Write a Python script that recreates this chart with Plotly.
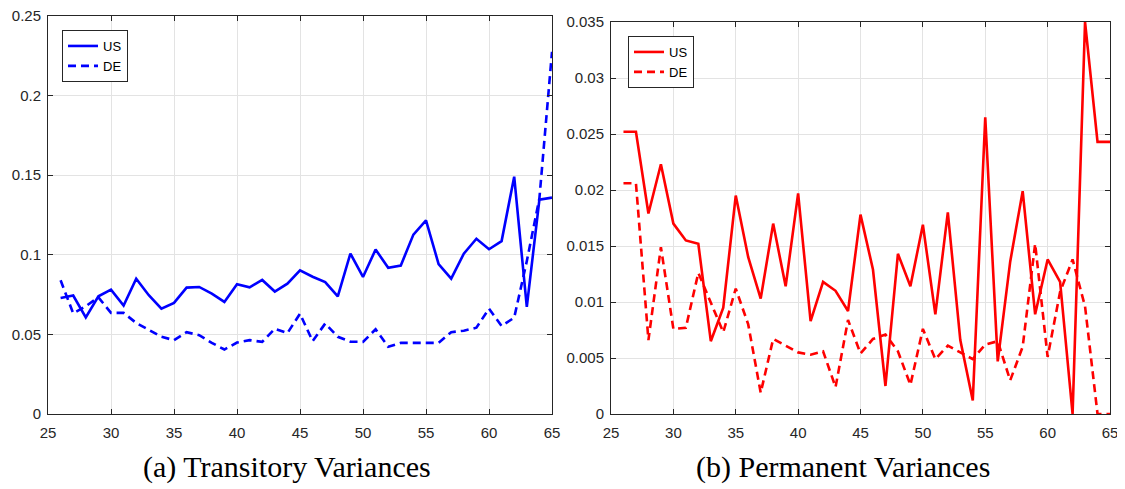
import plotly.graph_objects as go

ages = [26, 27, 28, 29, 30, 31, 32, 33, 34, 35, 36, 37, 38, 39, 40, 41, 42, 43, 44, 45,
        46, 47, 48, 49, 50, 51, 52, 53, 54, 55, 56, 57, 58, 59, 60, 61, 62, 63, 64, 65]

trans_us = [0.0729, 0.0744, 0.0606, 0.0739, 0.0781, 0.0681, 0.0850, 0.0746, 0.0662, 0.0698,
            0.0794, 0.0798, 0.0756, 0.0704, 0.0815, 0.0796, 0.0842, 0.0769, 0.0819, 0.0902,
            0.0862, 0.0829, 0.0739, 0.1008, 0.0861, 0.1033, 0.0919, 0.0933, 0.1127, 0.1216,
            0.0942, 0.0850, 0.1007, 0.1101, 0.1035, 0.1086, 0.1491, 0.0673, 0.1346, 0.1359]
trans_de = [0.0840, 0.0632, 0.0677, 0.0733, 0.0635, 0.0635, 0.0572, 0.0530, 0.0485, 0.0464,
            0.0514, 0.0495, 0.0447, 0.0405, 0.0449, 0.0464, 0.0453, 0.0535, 0.0508, 0.0630,
            0.0458, 0.0568, 0.0485, 0.0454, 0.0453, 0.0532, 0.0422, 0.0447, 0.0447, 0.0446,
            0.0447, 0.0514, 0.0523, 0.0542, 0.0662, 0.0553, 0.0605, 0.0960, 0.1355, 0.2275]
perm_us = [0.0252, 0.0252, 0.0179, 0.0223, 0.0170, 0.0155, 0.0152, 0.0065, 0.0095, 0.0195,
           0.0140, 0.0103, 0.0170, 0.0114, 0.0197, 0.0083, 0.0118, 0.0110, 0.0092, 0.0178,
           0.0129, 0.0025, 0.0143, 0.0114, 0.0169, 0.0089, 0.0180, 0.0066, 0.0012, 0.0265,
           0.0047, 0.0136, 0.0199, 0.0089, 0.0138, 0.0118, 0.0000, 0.0350, 0.0243, 0.0243]
perm_de = [0.0206, 0.0206, 0.0066, 0.0149, 0.0076, 0.0077, 0.0126, 0.0099, 0.0073, 0.0112,
           0.0080, 0.0019, 0.0067, 0.0061, 0.0055, 0.0053, 0.0056, 0.0024, 0.0084, 0.0054,
           0.0067, 0.0071, 0.0056, 0.0026, 0.0076, 0.0049, 0.0061, 0.0055, 0.0049, 0.0062,
           0.0065, 0.0030, 0.0060, 0.0152, 0.0051, 0.0109, 0.0138, 0.0096, 0.0000, 0.0000]

x_ticks = [25, 30, 35, 40, 45, 50, 55, 60, 65]
left_ticks = [0, 0.05, 0.1, 0.15, 0.2, 0.25]
left_labels = ["0", "0.05", "0.1", "0.15", "0.2", "0.25"]
right_ticks = [0, 0.005, 0.01, 0.015, 0.02, 0.025, 0.03, 0.035]
right_labels = ["0", "0.005", "0.01", "0.015", "0.02", "0.025", "0.03", "0.035"]
series_names = ["US", "DE"]
captions = ["(a) Transitory Variances", "(b) Permanent Variances"]

BLUE = "#0000FF"
RED = "#FF0000"
DASH = "8px,5px"
LW = 2.6

fig = go.Figure()
fig.add_trace(go.Scatter(x=ages, y=trans_us, mode="lines", name=series_names[0],
                         line=dict(color=BLUE, width=LW), xaxis="x", yaxis="y", legend="legend"))
fig.add_trace(go.Scatter(x=ages, y=trans_de, mode="lines", name=series_names[1],
                         line=dict(color=BLUE, width=LW, dash=DASH), xaxis="x", yaxis="y", legend="legend"))
fig.add_trace(go.Scatter(x=ages, y=perm_us, mode="lines", name=series_names[0],
                         line=dict(color=RED, width=LW), xaxis="x2", yaxis="y2", legend="legend2"))
fig.add_trace(go.Scatter(x=ages, y=perm_de, mode="lines", name=series_names[1],
                         line=dict(color=RED, width=LW, dash=DASH), xaxis="x2", yaxis="y2", legend="legend2"))

# page body has an 8px margin; figure is placed at (8, 8) in the 1125x489 window
OFF = 8
W, H = 1125 - OFF, 489 - OFF


def px_x(v):
    return (v - OFF) / W


def px_y(v):
    return 1 - (v - OFF) / H


tickfont = dict(family="Liberation Sans, Arial, sans-serif", size=15, color="#262626")
axis_common = dict(showline=True, linecolor="#262626", linewidth=1, mirror="ticks",
                   ticks="inside", ticklen=5, tickcolor="#262626", showgrid=True,
                   gridcolor="#e3e3e3", gridwidth=1, zeroline=False, automargin=False,
                   ticklabeloverflow="allow", tickfont=tickfont)
legend_font = dict(family="Liberation Sans, Arial, sans-serif", size=13, color="black")

fig.update_layout(
    width=W, height=H,
    paper_bgcolor="white", plot_bgcolor="white",
    margin=dict(l=0, r=0, t=0, b=0, autoexpand=False),
    showlegend=True,
    xaxis=dict(domain=[px_x(48), px_x(552)], range=[25, 65], tickvals=x_ticks, anchor="y",
               ticklabelstandoff=5, **axis_common),
    yaxis=dict(domain=[px_y(414), px_y(16)], range=[0, 0.25], tickvals=left_ticks,
               ticktext=left_labels, anchor="x", ticklabelstandoff=3, **axis_common),
    xaxis2=dict(domain=[px_x(611), px_x(1110)], range=[25, 65], tickvals=x_ticks, anchor="y2",
                ticklabelstandoff=5, **axis_common),
    yaxis2=dict(domain=[px_y(414), px_y(22)], range=[0, 0.035], tickvals=right_ticks,
                ticktext=right_labels, anchor="x2", ticklabelstandoff=3, **axis_common),
    legend=dict(x=px_x(62), y=px_y(30), xanchor="left", yanchor="top",
                bgcolor="white", bordercolor="#262626", borderwidth=1,
                font=legend_font, tracegroupgap=0, itemwidth=30),
    legend2=dict(x=px_x(628), y=px_y(36), xanchor="left", yanchor="top",
                 bgcolor="white", bordercolor="#262626", borderwidth=1,
                 font=legend_font, tracegroupgap=0, itemwidth=30),
    annotations=[
        dict(text=captions[0], x=px_x(287), y=px_y(467), xref="paper", yref="paper",
             showarrow=False, xanchor="center", yanchor="middle",
             font=dict(family="Liberation Serif, Times New Roman, serif", size=30, color="black")),
        dict(text=captions[1], x=px_x(843), y=px_y(467), xref="paper", yref="paper",
             showarrow=False, xanchor="center", yanchor="middle",
             font=dict(family="Liberation Serif, Times New Roman, serif", size=30, color="black")),
    ],
)

fig.write_html("out.html")
